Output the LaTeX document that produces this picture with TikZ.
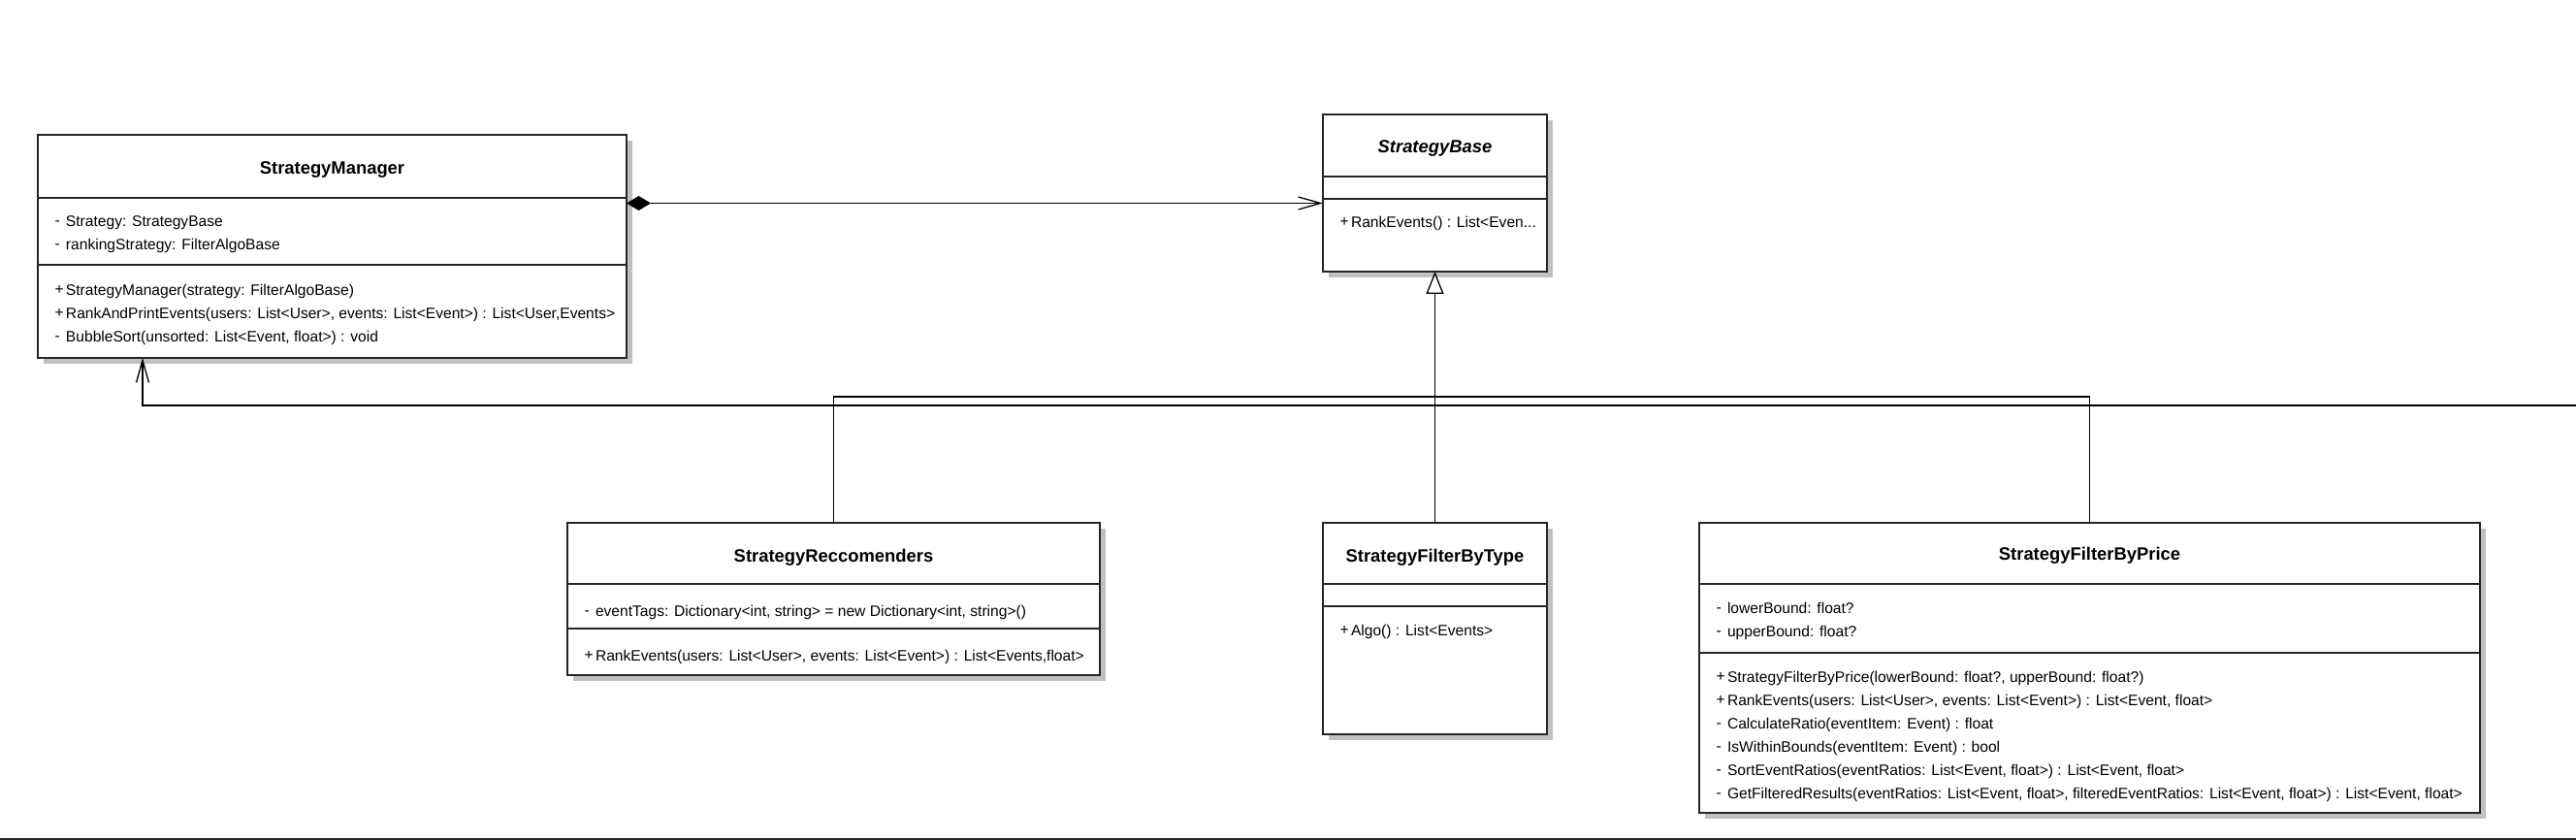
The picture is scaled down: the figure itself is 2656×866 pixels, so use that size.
\documentclass[tikz,border=0pt]{standalone}
\usepackage{fontspec}
\setmainfont{Liberation Sans}
\usetikzlibrary{arrows.meta,shadows,calc}
\definecolor{umlborder}{RGB}{38,38,38}
\definecolor{shadowgray}{RGB}{192,192,192}
\newcommand\vis[1]{\makebox[13pt][l]{\hspace{1.5pt}\raisebox{1pt}{#1}}}
\begin{document}
\begin{tikzpicture}[x=1pt,y=-1pt,
  classbox/.style={draw=umlborder,line width=1.8pt,fill=white,inner sep=0pt,outer sep=0pt,anchor=north west,
     drop shadow={shadow xshift=6pt,shadow yshift=-6pt,fill=shadowgray,opacity=1}},
  divider/.style={draw=umlborder,line width=1.6pt},
  txt/.style={inner sep=0pt,outer sep=0pt,anchor=base west,font=\fontsize{15.6}{18}\selectfont},
  ttl/.style={inner sep=0pt,outer sep=0pt,anchor=base,font=\fontsize{18.4}{22}\selectfont\bfseries},
  conn/.style={draw=black,line width=1.3pt},
  openarrow/.style={-{Straight Barb[length=23pt,width=13pt,line width=1.3pt]}},
]
\useasboundingbox (0,0) rectangle (2656,866);
\fill[white] (0,0) rectangle (2656,866);

% ---------- StrategyManager ----------
\node[classbox,minimum width=607pt,minimum height=230pt] (sm) at (39,139) {};
\draw[divider] (sm.west |- 0,204) -- (sm.east |- 0,204);
\draw[divider] (sm.west |- 0,273) -- (sm.east |- 0,273);
\node[ttl] (smt) at (342.5,179.5) {StrategyManager};
\node[txt] (sma1) at (55,233.5) {\vis{-}Strategy: StrategyBase};
\node[txt] (sma2) at (55,258) {\vis{-}rankingStrategy: FilterAlgoBase};
\node[txt] (smm1) at (55,304.5) {\vis{+}StrategyManager(strategy: FilterAlgoBase)};
\node[txt] (smm2) at (55,328.5) {\vis{+}RankAndPrintEvents(users: List<User>, events: List<Event>) : List<User,Events>};
\node[txt] (smm3) at (55,352.5) {\vis{-}BubbleSort(unsorted: List<Event, float>) : void};

% ---------- StrategyBase ----------
\node[classbox,minimum width=231pt,minimum height=162pt] (sb) at (1364,118) {};
\draw[divider] (sb.west |- 0,182) -- (sb.east |- 0,182);
\draw[divider] (sb.west |- 0,205) -- (sb.east |- 0,205);
\node[ttl,font=\fontsize{18.4}{22}\selectfont\bfseries\itshape] (sbt) at (1479.5,157.5) {StrategyBase};
\node[txt] (sbm1) at (1380,234.5) {\vis{+}RankEvents() : List<Even...};

% ---------- StrategyReccomenders ----------
\node[classbox,minimum width=549pt,minimum height=157pt] (sr) at (585,539) {};
\draw[divider] (sr.west |- 0,602) -- (sr.east |- 0,602);
\draw[divider] (sr.west |- 0,648) -- (sr.east |- 0,648);
\node[ttl] (srt) at (859.5,579.5) {StrategyReccomenders};
\node[txt] (sra1) at (601,635.5) {\vis{-}eventTags: Dictionary<int, string> = new Dictionary<int, string>()};
\node[txt] (srm1) at (601,681.5) {\vis{+}RankEvents(users: List<User>, events: List<Event>) : List<Events,float>};

% ---------- StrategyFilterByType ----------
\node[classbox,minimum width=231pt,minimum height=218pt] (st) at (1364,539) {};
\draw[divider] (st.west |- 0,602) -- (st.east |- 0,602);
\draw[divider] (st.west |- 0,625) -- (st.east |- 0,625);
\node[ttl] (stt) at (1479.5,579.5) {StrategyFilterByType};
\node[txt] (stm1) at (1380,655.5) {\vis{+}Algo() : List<Events>};

% ---------- StrategyFilterByPrice ----------
\node[classbox,minimum width=805pt,minimum height=299pt] (sp) at (1752,539) {};
\draw[divider] (sp.west |- 0,602) -- (sp.east |- 0,602);
\draw[divider] (sp.west |- 0,673) -- (sp.east |- 0,673);
\node[ttl] (spt) at (2154.5,577.5) {StrategyFilterByPrice};
\node[txt] (spa1) at (1768,632.5) {\vis{-}lowerBound: float?};
\node[txt] (spa2) at (1768,656.5) {\vis{-}upperBound: float?};
\node[txt] (spm1) at (1768,703.5) {\vis{+}StrategyFilterByPrice(lowerBound: float?, upperBound: float?)};
\node[txt] (spm2) at (1768,727.5) {\vis{+}RankEvents(users: List<User>, events: List<Event>) : List<Event, float>};
\node[txt] (spm3) at (1768,751.5) {\vis{-}CalculateRatio(eventItem: Event) : float};
\node[txt] (spm4) at (1768,775.5) {\vis{-}IsWithinBounds(eventItem: Event) : bool};
\node[txt] (spm5) at (1768,799.5) {\vis{-}SortEventRatios(eventRatios: List<Event, float>) : List<Event, float>};
\node[txt] (spm6) at (1768,823.5) {\vis{-}GetFilteredResults(eventRatios: List<Event, float>, filteredEventRatios: List<Event, float>) : List<Event, float>};

% ---------- connectors ----------
% composition
\draw[conn,{Diamond[length=25pt,width=15pt,fill=black]}-{Straight Barb[length=23pt,width=13pt,line width=1.3pt]}]
  (sm.east |- 0,209.5) -- (sb.west |- 0,209.5);
% generalization
\coordinate (junc) at (sb.south |- 0,409);
\draw[conn] (sr.north) |- (junc);
\draw[conn] (sp.north) |- (junc);
\draw[conn,-{Triangle[length=23pt,width=18pt,fill=white,line width=1.3pt]}] (st.north) -- (sb.south);
% association from off-page
\coordinate (offr) at (2656,418);
\coordinate (smin) at ($(sm.south west)+(108,0)$);
\draw[conn,openarrow] (offr) -| (smin);
% bottom cut-off edge
\coordinate (bl) at (0,865);
\coordinate (br) at (2656,865);
\draw[draw=umlborder,line width=2.5pt] (bl) -- (br);
\end{tikzpicture}
\end{document}
